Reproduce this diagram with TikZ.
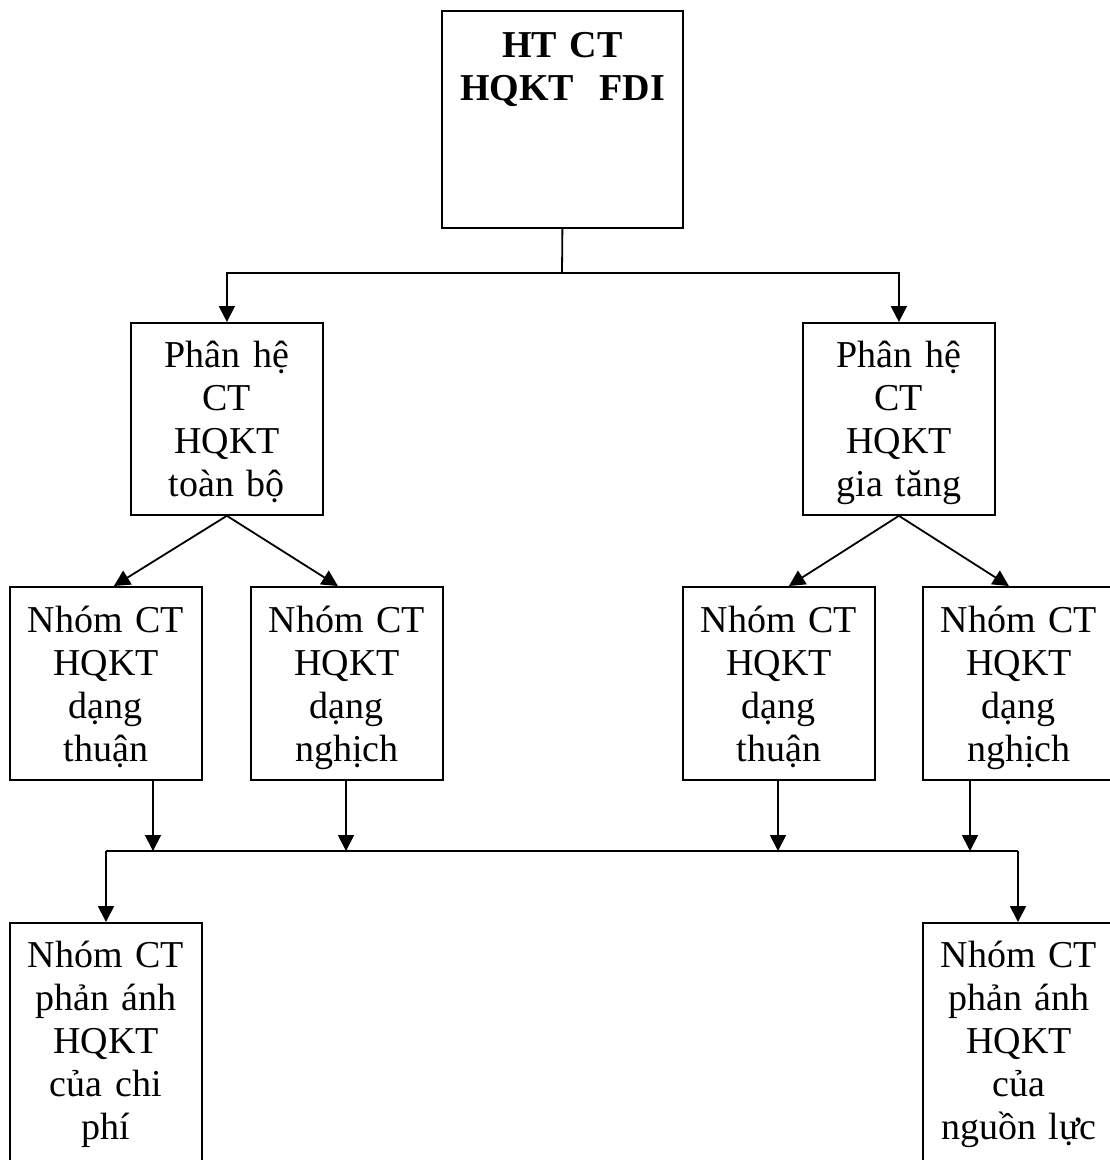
\documentclass[tikz,border=0pt]{standalone}
\usepackage{fontspec}
\setmainfont{Liberation Serif}
\usetikzlibrary{arrows.meta,calc}
\begin{document}
\begin{tikzpicture}[x=1pt,y=-1pt,
 box/.style={draw,line width=1.8pt,minimum width=192pt,minimum height=193pt,anchor=north west,inner sep=0pt},
 txt/.style={text width=190pt,align=center,inner sep=0pt,anchor=base,font=\fontsize{38}{43}\selectfont},
 arr/.style={line width=1.8pt,-{Triangle[length=16pt,width=16pt]}},
 ln/.style={line width=1.8pt}]
\useasboundingbox (0,0) rectangle (1110,1160);
\clip (0,0) rectangle (1110,1160);
% boxes
\node[box,minimum width=241pt,minimum height=217pt] (top) at (441,10) {};
\node[box,minimum height=192pt] (p1) at (130,322) {};
\node[box,minimum height=192pt] (p2) at (802,322) {};
\node[box] (l1) at (9,586) {};
\node[box] (l2) at (250,586) {};
\node[box] (r1) at (682,586) {};
\node[box] (r2) at (922,586) {};
\node[box,minimum height=300pt] (fl) at (9,922) {};
\node[box,minimum height=300pt] (fr) at (922,922) {};
% texts
\node[txt,text width=236pt,font=\bfseries\fontsize{38}{43}\selectfont] (topt) at ($(top.north)+(0,47)$) {HT CT\\HQKT\ \ FDI};
\node[txt] (p1t) at ($(p1.north)+(0,45)$) {Phân hệ\\CT\\HQKT\\toàn bộ};
\node[txt] (p2t) at ($(p2.north)+(0,45)$) {Phân hệ\\CT\\HQKT\\gia tăng};
\node[txt] (l1t) at ($(l1.north)+(0,46)$) {Nhóm CT\\HQKT\\dạng\\thuận};
\node[txt] (l2t) at ($(l2.north)+(0,46)$) {Nhóm CT\\HQKT\\dạng\\nghịch};
\node[txt] (r1t) at ($(r1.north)+(0,46)$) {Nhóm CT\\HQKT\\dạng\\thuận};
\node[txt] (r2t) at ($(r2.north)+(0,46)$) {Nhóm CT\\HQKT\\dạng\\nghịch};
\node[txt] (flt) at ($(fl.north)+(0,45)$) {Nhóm CT\\phản ánh\\HQKT\\của chi\\phí};
\node[txt] (frt) at ($(fr.north)+(0,45)$) {Nhóm CT\\phản ánh\\HQKT\\của\\nguồn lực};
% top connectors
\coordinate (hub) at (562,273);
\draw[ln] (top.south) -- (hub);
\draw[arr] (hub) -| (p1.north);
\draw[arr] (hub) -| (p2.north);
% diagonal connectors
\draw[arr] (p1.south) -- ($(l1.north)+(8,0)$);
\draw[arr] (p1.south) -- ($(l2.north)+(-9,0)$);
\draw[arr] (p2.south) -- ($(r1.north)+(10,0)$);
\draw[arr] (p2.south) -- ($(r2.north)+(-10,0)$);
% bus
\coordinate (a1) at (153,851);
\coordinate (a2) at (346,851);
\coordinate (a3) at (778,851);
\coordinate (a4) at (970,851);
\coordinate (busL) at (106,851);
\coordinate (busR) at (1018,851);
\draw[arr] (a1 |- l1.south) -- (a1);
\draw[arr] (a2 |- l2.south) -- (a2);
\draw[arr] (a3 |- r1.south) -- (a3);
\draw[arr] (a4 |- r2.south) -- (a4);
\draw[ln] (busL) -- (busR);
\draw[arr] (busL) -- (busL |- fl.north);
\draw[arr] (busR) -- (busR |- fr.north);
\end{tikzpicture}
\end{document}
